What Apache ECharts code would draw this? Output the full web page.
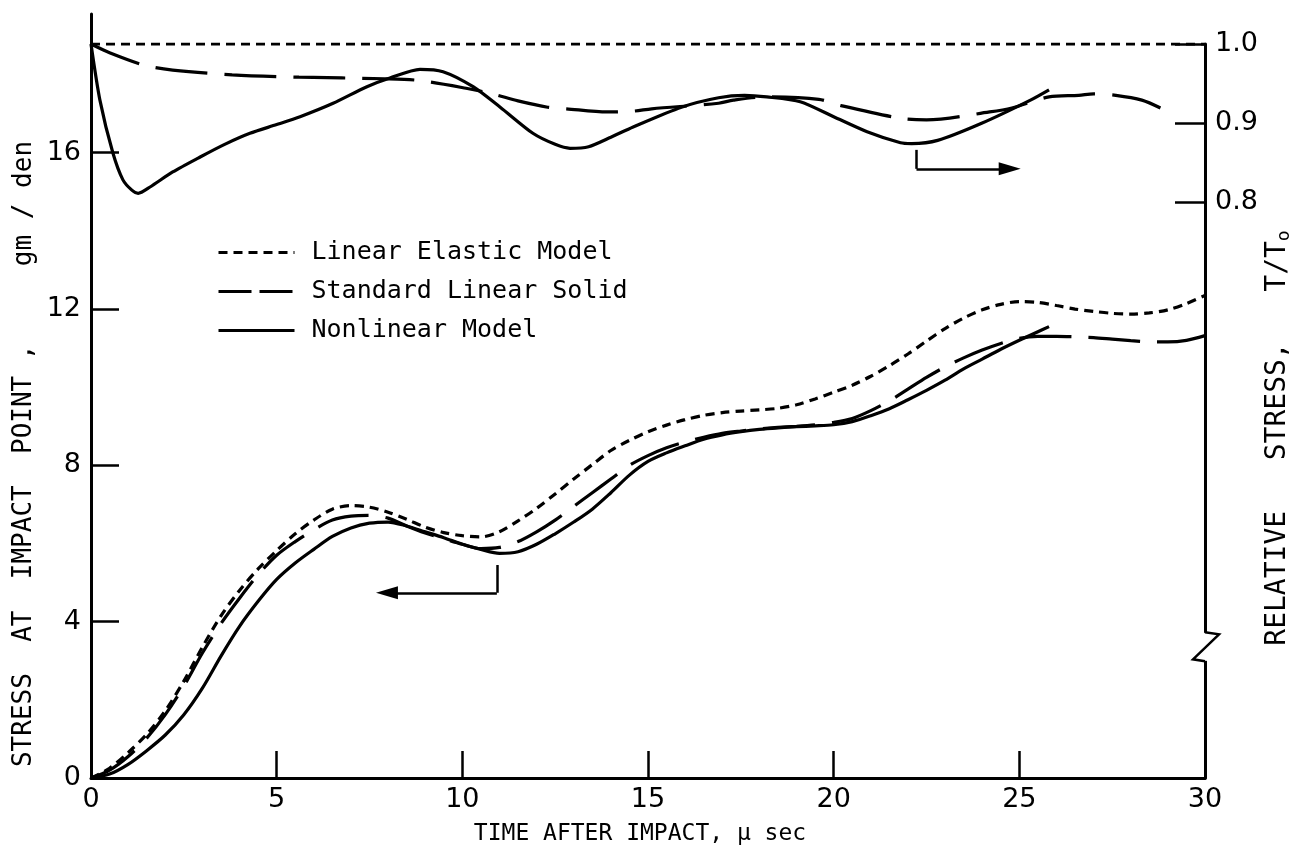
<!DOCTYPE html>
<html>
<head>
<meta charset="utf-8">
<script src="https://cdn.jsdelivr.net/npm/echarts@6/dist/echarts.min.js"></script>
<style>
html, body { margin: 0; padding: 0; background: #fff; }
#chart { width: 1299px; height: 852px; }
</style>
</head>
<body>
<div id="chart"></div>
<script>
// ---- Stress at the impact point (gm/den) versus time after impact (µs) ----
const timeLower = [0, 0.5, 1, 1.5, 2, 2.5, 3, 3.5, 4, 4.5, 5, 5.5, 6, 6.5, 7, 7.5, 8, 8.5, 9, 9.5,
  10, 10.5, 11, 11.5, 12, 12.5, 13, 13.5, 14, 14.5, 15, 15.5, 16, 16.5, 17, 17.5, 18, 18.5, 19, 19.5,
  20, 20.5, 21, 21.5, 22, 22.5, 23, 23.5, 24, 24.5, 25, 25.5, 26, 26.5, 27, 27.5, 28, 28.5, 29, 29.5, 30];
const elasticLower = [0, 0.25, 0.65, 1.12, 1.72, 2.48, 3.35, 4.15, 4.8, 5.35, 5.82, 6.25, 6.6, 6.88, 6.97, 6.93, 6.8, 6.62, 6.42, 6.28,
  6.2, 6.17, 6.3, 6.58, 6.9, 7.27, 7.65, 8.02, 8.38, 8.64, 8.86, 9.03, 9.17, 9.28, 9.35, 9.39, 9.42, 9.46, 9.55, 9.7,
  9.87, 10.05, 10.28, 10.55, 10.85, 11.18, 11.5, 11.77, 11.98, 12.12, 12.19, 12.17, 12.09, 12.0, 11.94, 11.89, 11.87, 11.9, 11.98, 12.14, 12.35];
const slsLower = [0, 0.2, 0.55, 1.02, 1.62, 2.35, 3.2, 3.95, 4.6, 5.2, 5.7, 6.05, 6.35, 6.6, 6.7, 6.72, 6.65, 6.45, 6.27, 6.12,
  5.98, 5.87, 5.9, 6.05, 6.3, 6.6, 6.95, 7.3, 7.65, 8.0, 8.25, 8.45, 8.6, 8.72, 8.82, 8.88, 8.93, 8.97, 9.0, 9.04,
  9.1, 9.2, 9.4, 9.65, 9.95, 10.25, 10.52, 10.75, 10.95, 11.12, 11.25, 11.3, 11.3, 11.29, 11.27, 11.23, 11.19, 11.16, 11.16, 11.2, 11.32];
const nonlinearTime = [0, 0.5, 1, 1.5, 2, 2.5, 3, 3.5, 4, 4.5, 5, 5.5, 6, 6.5, 7, 7.5, 8, 8.5, 9, 9.5,
  10, 10.5, 11, 11.5, 12, 12.5, 13, 13.5, 14, 14.5, 15, 15.5, 16, 16.5, 17, 17.5, 18, 18.5, 19, 19.5,
  20, 20.5, 21, 21.5, 22, 22.5, 23, 23.5, 24, 24.5, 25, 25.5, 25.8];
const nonlinearLower = [0, 0.1, 0.35, 0.7, 1.1, 1.62, 2.3, 3.12, 3.88, 4.52, 5.08, 5.5, 5.85, 6.18, 6.4, 6.52, 6.55, 6.45, 6.3, 6.15,
  5.98, 5.85, 5.75, 5.79, 5.98, 6.25, 6.55, 6.88, 7.3, 7.75, 8.1, 8.32, 8.5, 8.67, 8.78, 8.86, 8.92, 8.96, 8.99, 9.01,
  9.04, 9.12, 9.27, 9.45, 9.68, 9.92, 10.18, 10.47, 10.72, 10.97, 11.2, 11.42, 11.55];

// ---- Relative stress T/To versus time (right-hand scale) ----
const elasticUpperTime = [0, 30];
const elasticUpper = [1.0, 1.0];
const slsUpperTime = [0, 0.5, 1.45, 2.2, 3.8, 5.6, 7.9, 8.8, 10.1, 10.8, 11.5, 12.3, 12.8, 13.9, 14.6, 15.1,
  16.9, 17.3, 18.2, 19.6, 20.2, 21.8, 22.5, 24.2, 24.8, 25.8, 26.6, 27.0, 27.6, 28.3, 28.8];
const slsUpper = [1.0, 0.989, 0.973, 0.967, 0.961, 0.958, 0.956, 0.954, 0.944, 0.937, 0.928, 0.920, 0.918, 0.914, 0.915, 0.918,
  0.925, 0.929, 0.933, 0.930, 0.922, 0.906, 0.904, 0.914, 0.919, 0.933, 0.935, 0.937, 0.935, 0.929, 0.919];
const nonlinearUpperTime = [0, 0.24, 0.59, 0.86, 1.1, 1.27, 1.59, 2.2, 2.94, 3.6, 4.28, 5.0, 5.63, 6.52, 7.43, 8.05, 8.86, 9.48, 10.29, 11.02,
  11.9, 12.5, 12.9, 13.4, 14.0, 14.6, 15.9, 16.9, 17.6, 18.2, 19.1, 20.0, 20.9, 21.8, 22.1, 22.8, 24.0, 25.3, 25.8];
const nonlinearUpper = [1.0, 0.929, 0.862, 0.828, 0.815, 0.811, 0.819, 0.838, 0.857, 0.873, 0.887, 0.898, 0.908, 0.925, 0.946, 0.957, 0.968, 0.965, 0.946, 0.920,
  0.887, 0.873, 0.868, 0.870, 0.882, 0.895, 0.920, 0.932, 0.935, 0.933, 0.927, 0.908, 0.889, 0.875, 0.874, 0.878, 0.900, 0.929, 0.942];

// ---- Axis ticks and extents ----
const timeTicks = [0, 5, 10, 15, 20, 25, 30];
const stressTicks = [0, 4, 8, 12, 16];
const relativeTicks = [0.8, 0.9, 1.0];
const stressAxisMax = 19.55;
const relativeAxisMin = 0.071;
const relativeBreakAt = 0.237;

// Arrows tying each family of curves to its scale
const lowerArrow = { stemT: 10.93, stemTop: 5.45, baseV: 4.74, tipT: 7.97 };
const upperArrow = { stemT: 22.23, stemTop: 0.866, baseR: 0.842, tipT: 24.74 };

const names = ['Linear Elastic Model', 'Standard Linear Solid', 'Nonlinear Model'];

const SANS = 'DejaVu Sans';
const MONO = 'DejaVu Sans Mono';
const INK = '#000';
const DOTTED = [9, 6];
const LONG_DASH = [52, 17];

const pair = (ts, vs) => ts.map((t, i) => [t, vs[i]]);

function curve(name, data, dash, grid, extra) {
  return Object.assign({
    name: name,
    type: 'line',
    xAxisIndex: grid,
    yAxisIndex: grid,
    data: data,
    smooth: 0.3,
    symbol: 'none',
    silent: true,
    lineStyle: { color: INK, width: 3.2, type: dash },
    itemStyle: { color: INK }
  }, extra || {});
}

function arrowMarks(stemT, stemTop, base, tipT) {
  return {
    silent: true,
    symbol: ['none', 'none'],
    label: { show: false },
    lineStyle: { color: INK, width: 2.5, type: 'solid' },
    animation: false,
    data: [
      [{ coord: [stemT, stemTop] }, { coord: [stemT, base] }],
      [{ coord: [stemT, base] }, { coord: [tipT, base], symbol: 'triangle', symbolSize: [13, 22] }]
    ]
  };
}

const axisLine = { show: true, onZero: false, lineStyle: { color: INK, width: 3 } };

const chart = echarts.init(document.getElementById('chart'), null, { renderer: 'canvas' });

chart.setOption({
  animation: false,
  backgroundColor: '#fff',
  textStyle: { fontFamily: SANS, color: INK },
  grid: [
    { left: 91, right: 94, top: 14, bottom: 74, outerBoundsMode: 'none', containLabel: false },
    { left: 91, right: 94, top: 44, bottom: 74, outerBoundsMode: 'none', containLabel: false }
  ],
  legend: {
    orient: 'vertical',
    left: 212,
    top: 235,
    itemWidth: 76,
    itemHeight: 14,
    itemGap: 14,
    selectedMode: false,
    itemStyle: { opacity: 0 },
    lineStyle: { width: 3 },
    textStyle: { fontFamily: MONO, fontSize: 25, color: INK, padding: [0, 0, 0, 12] },
    data: [
      { name: names[0] },
      { name: names[1], lineStyle: { type: [33, 8] } },
      { name: names[2] }
    ]
  },
  xAxis: [
    {
      gridIndex: 0, type: 'value', min: 0, max: 30, interval: 5,
      name: 'TIME AFTER IMPACT, μ sec', nameLocation: 'middle', nameGap: 45, nameMoveOverlap: false,
      nameTextStyle: { fontFamily: MONO, fontSize: 23, color: INK, padding: [0, 16, 0, 0] },
      axisLine: axisLine,
      axisTick: { show: true, inside: true, length: 27, customValues: timeTicks, lineStyle: { color: INK, width: 2.5 } },
      axisLabel: { show: true, customValues: timeTicks, fontSize: 27, color: INK, margin: 8 },
      splitLine: { show: false }
    },
    { gridIndex: 1, type: 'value', min: 0, max: 30, show: false }
  ],
  yAxis: [
    {
      gridIndex: 0, type: 'value', min: 0, max: stressAxisMax, position: 'left',
      name: 'STRESS  AT  IMPACT  POINT ,     gm / den', nameLocation: 'middle', nameRotate: 90, nameGap: 54,
      nameMoveOverlap: false,
      nameTextStyle: { fontFamily: MONO, fontSize: 26, color: INK, padding: [0, 116, 0, 0] },
      axisLine: axisLine,
      axisTick: { show: true, inside: true, length: 28, customValues: stressTicks, lineStyle: { color: INK, width: 2.5 } },
      axisLabel: { show: true, customValues: stressTicks, fontSize: 27, color: INK, margin: 10 },
      splitLine: { show: false }
    },
    {
      gridIndex: 1, type: 'value', min: relativeAxisMin, max: 1.0, position: 'right',
      name: 'RELATIVE   STRESS,   T/T{sub|o}', nameLocation: 'middle', nameRotate: 90, nameGap: 58,
      nameMoveOverlap: false,
      nameTextStyle: {
        fontFamily: MONO, fontSize: 28, color: INK, padding: [0, 54, 0, 0],
        rich: { sub: { fontFamily: MONO, fontSize: 18, color: INK, verticalAlign: 'bottom', padding: [12, 0, 0, 0] } }
      },
      axisLine: axisLine,
      axisTick: { show: true, inside: true, length: 30, customValues: relativeTicks, lineStyle: { color: INK, width: 2.5 } },
      axisLabel: { show: true, customValues: relativeTicks, fontSize: 27, color: INK, margin: 10,
        formatter: v => v.toFixed(1) },
      splitLine: { show: false }
    }
  ],
  series: [
    curve(names[0], pair(timeLower, elasticLower), DOTTED, 0),
    curve(names[1], pair(timeLower, slsLower), LONG_DASH, 0),
    curve(names[2], pair(nonlinearTime, nonlinearLower), 'solid', 0, {
      markLine: arrowMarks(lowerArrow.stemT, lowerArrow.stemTop, lowerArrow.baseV, lowerArrow.tipT)
    }),
    curve(names[0], pair(elasticUpperTime, elasticUpper), DOTTED, 1, { smooth: false }),
    curve(names[1], pair(slsUpperTime, slsUpper), LONG_DASH, 1),
    curve(names[2], pair(nonlinearUpperTime, nonlinearUpper), 'solid', 1, {
      smooth: 0.25,
      markLine: arrowMarks(upperArrow.stemT, upperArrow.stemTop, upperArrow.baseR, upperArrow.tipT)
    })
  ]
});

// Scale-break zigzag on the right-hand axis line
const [bx, by] = chart.convertToPixel({ xAxisIndex: 1, yAxisIndex: 1 }, [30, relativeBreakAt]);
chart.setOption({
  graphic: {
    elements: [
      { type: 'rect', z: 100, silent: true,
        shape: { x: bx - 3, y: by - 14, width: 6, height: 28 }, style: { fill: '#fff' } },
      { type: 'polyline', z: 101, silent: true,
        shape: { points: [[bx, by - 14.5], [bx + 14, by - 12.5], [bx - 12, by + 12.5], [bx, by + 14.5]] },
        style: { stroke: INK, lineWidth: 2.5, fill: null } }
    ]
  }
});
</script>
</body>
</html>
